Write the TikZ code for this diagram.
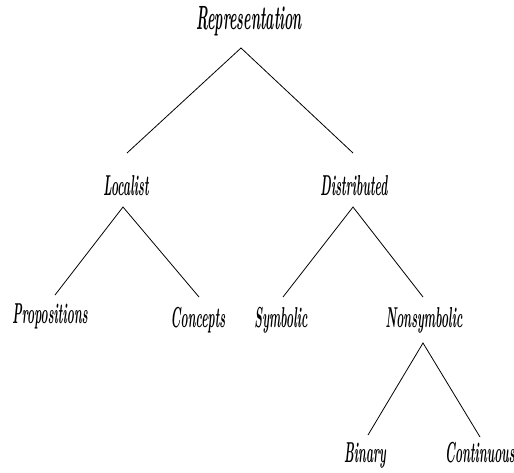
\documentclass[tikz,border=0pt]{standalone}
\usepackage{graphicx}
\newcommand{\tallword}[1]{\scalebox{.67}[1.6]{#1}}
\tikzset{
  lbl/.style={anchor=base, inner sep=0pt, font=\bfseries\itshape\fontsize{18}{20}\selectfont},
  toplbl/.style={lbl, font=\bfseries\itshape\fontsize{21}{24}\selectfont},
  branch/.style={line width=.8pt}
}
\begin{document}
\begin{tikzpicture}[x=1pt,y=-1pt]
            \useasboundingbox (0,0) rectangle (514,472);
            % labels, placed at their baselines
            \node[toplbl] (rep) at (249,29) {\tallword{Representation}};
            \node[lbl] (loc) at (126,195) {\tallword{Localist}};
            \node[lbl] (dist) at (354,195) {\tallword{Distributed}};
            \node[lbl] (prop) at (50,323) {\tallword{Propositions}};
            \node[lbl] (conc) at (198,327) {\tallword{Concepts}};
            \node[lbl] (symb) at (281,327) {\tallword{Symbolic}};
            \node[lbl] (nons) at (424,327) {\tallword{Nonsymbolic}};
            \node[lbl] (bin) at (365,462) {\tallword{Binary}};
            \node[lbl] (cont) at (480,462) {\tallword{Continuous}};

            % branches
            \draw[branch] ([shift={(1,-42)}]loc.base) -- ([shift={(-8,19)}]rep.base) -- ([shift={(-1,-42)}]dist.base);
            \draw[branch] ([shift={(5,-28)}]prop.base) -- ([shift={(-3,12)}]loc.base) -- ([shift={(1,-30)}]conc.base);
            \draw[branch] ([shift={(2,-30)}]symb.base) -- ([shift={(-1,12)}]dist.base) -- ([shift={(-1,-30)}]nons.base);
            \draw[branch] ([shift={(3,-27)}]bin.base) -- ([shift={(-1,16)}]nons.base) -- ([shift={(0,-25)}]cont.base);
\end{tikzpicture}
\end{document}
